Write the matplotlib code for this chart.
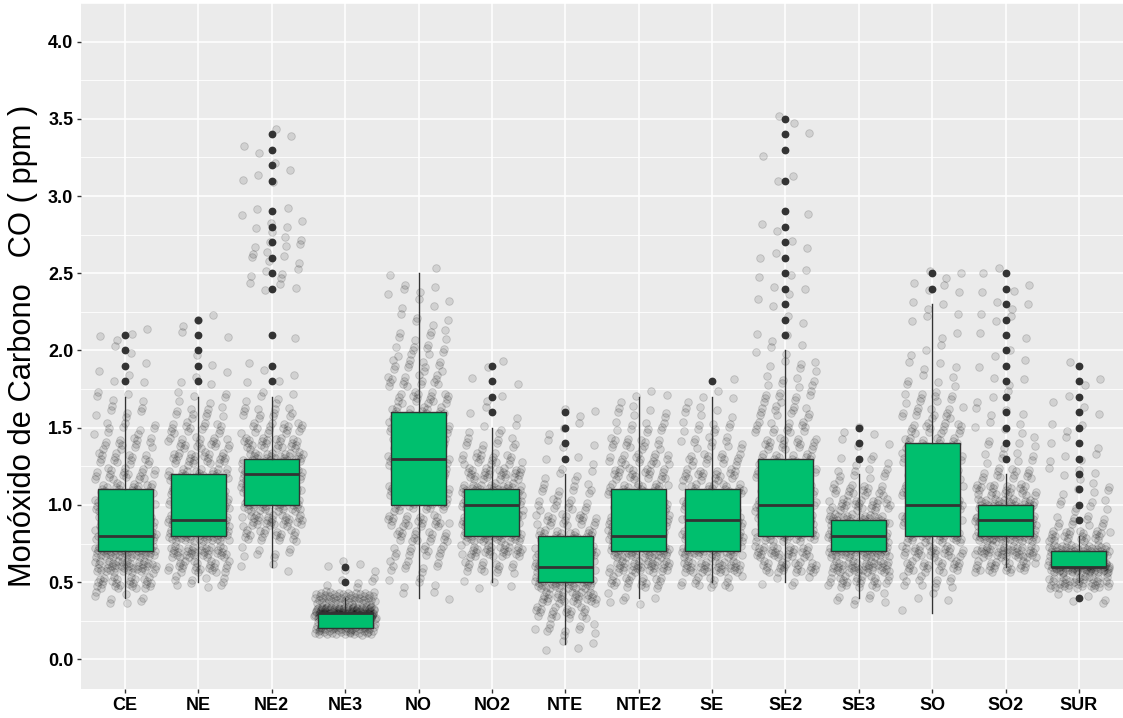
import matplotlib
matplotlib.use("Agg")
import matplotlib.pyplot as plt
import numpy as np

# ---------------- data ----------------
categories = ["CE", "NE", "NE2", "NE3", "NO", "NO2", "NTE", "NTE2",
              "SE", "SE2", "SE3", "SO", "SO2", "SUR"]

q1      = [0.7, 0.8, 1.0, 0.2, 1.0, 0.8, 0.5, 0.7, 0.7, 0.8, 0.7, 0.8, 0.8, 0.6]
median  = [0.8, 0.9, 1.2, 0.3, 1.3, 1.0, 0.6, 0.8, 0.9, 1.0, 0.8, 1.0, 0.9, 0.6]
q3      = [1.1, 1.2, 1.3, 0.3, 1.6, 1.1, 0.8, 1.1, 1.1, 1.3, 0.9, 1.4, 1.0, 0.7]
whis_lo = [0.4, 0.5, 0.6, 0.2, 0.4, 0.5, 0.1, 0.4, 0.5, 0.5, 0.4, 0.3, 0.6, 0.5]
whis_hi = [1.7, 1.7, 1.7, 0.4, 2.5, 1.5, 1.2, 1.7, 1.7, 2.0, 1.2, 2.3, 1.2, 0.8]

outliers_CE   = [1.8, 1.9, 2.0, 2.1]
outliers_NE   = [1.8, 1.9, 2.0, 2.1, 2.2]
outliers_NE2  = [1.8, 1.9, 2.1, 2.4, 2.5, 2.6, 2.7, 2.8, 2.9, 3.1, 3.2, 3.3, 3.4]
outliers_NE3  = [0.5, 0.6]
outliers_NO   = []
outliers_NO2  = [1.6, 1.7, 1.8, 1.9]
outliers_NTE  = [1.3, 1.4, 1.5, 1.6]
outliers_NTE2 = []
outliers_SE   = [1.8]
outliers_SE2  = [2.1, 2.2, 2.3, 2.4, 2.5, 2.6, 2.7, 2.8, 2.9, 3.1, 3.3, 3.4, 3.5]
outliers_SE3  = [1.3, 1.4, 1.5]
outliers_SO   = [2.4, 2.5]
outliers_SO2  = [1.3, 1.4, 1.5, 1.6, 1.7, 1.8, 1.9, 2.0, 2.1, 2.2, 2.3, 2.4, 2.5]
outliers_SUR  = [0.4, 0.9, 1.0, 1.1, 1.2, 1.3, 1.4, 1.5, 1.6, 1.7, 1.8, 1.9]

# jittered observations: lowest level (ppm) and counts per 0.1 ppm step
start_CE   = 0.4
counts_CE  = [8, 28, 42, 48, 42, 30, 26, 24, 20, 16, 14, 10, 7, 5, 3, 2, 2, 4]
start_NE   = 0.5
counts_NE  = [10, 25, 35, 45, 40, 35, 30, 28, 25, 20, 15, 10, 6, 3, 2, 1, 2, 3]
start_NE2  = 0.6
counts_NE2 = [3, 8, 20, 30, 35, 40, 45, 35, 25, 18, 12, 6, 3, 2, 0, 1, 0, 0,
              4, 5, 6, 6, 5, 3, 0, 3, 2, 2, 2]
start_NE3  = 0.2
counts_NE3 = [60, 120, 50, 6, 5]
start_NO   = 0.4
counts_NO  = [3, 5, 10, 14, 18, 22, 25, 25, 25, 25, 25, 22, 20, 18, 15, 12,
              10, 7, 5, 4, 5, 2]
start_NO2  = 0.5
counts_NO2 = [4, 15, 30, 40, 45, 45, 38, 28, 18, 10, 5, 3, 2, 2, 2]
start_NTE  = 0.1
counts_NTE = [4, 10, 20, 30, 40, 40, 35, 28, 20, 14, 10, 6, 3, 3, 3, 3]
start_NTE2 = 0.4
counts_NTE2 = [6, 20, 35, 40, 38, 32, 28, 25, 22, 18, 15, 10, 7, 4]
start_SE   = 0.5
counts_SE  = [15, 35, 40, 38, 35, 30, 25, 20, 16, 12, 9, 6, 4, 1]
start_SE2  = 0.5
counts_SE2 = [5, 25, 30, 32, 30, 28, 25, 22, 20, 18, 15, 12, 10, 8, 6, 4,
              3, 2, 2, 3, 3, 2, 2, 2, 1, 0, 2, 0, 1, 1, 2]
start_SE3  = 0.4
counts_SE3 = [8, 25, 40, 48, 50, 40, 28, 18, 10, 5, 3, 3]
start_SO   = 0.3
counts_SO  = [1, 3, 12, 22, 28, 30, 28, 26, 24, 22, 20, 18, 16, 13, 10, 6,
              4, 3, 2, 3, 3, 4, 3]
start_SO2  = 0.6
counts_SO2 = [25, 40, 50, 50, 40, 25, 15, 8, 6, 5, 4, 3, 3, 2, 2, 2, 3, 3, 3, 2]
start_SUR  = 0.4
counts_SUR = [5, 40, 80, 50, 25, 12, 8, 6, 5, 4, 3, 3, 2, 2, 2, 1]

y_label = "Monóxido de Carbono   CO ( ppm )"
y_ticks = [0.0, 0.5, 1.0, 1.5, 2.0, 2.5, 3.0, 3.5, 4.0]

outliers = [outliers_CE, outliers_NE, outliers_NE2, outliers_NE3, outliers_NO,
            outliers_NO2, outliers_NTE, outliers_NTE2, outliers_SE, outliers_SE2,
            outliers_SE3, outliers_SO, outliers_SO2, outliers_SUR]
starts = [start_CE, start_NE, start_NE2, start_NE3, start_NO, start_NO2, start_NTE,
          start_NTE2, start_SE, start_SE2, start_SE3, start_SO, start_SO2, start_SUR]
counts = [counts_CE, counts_NE, counts_NE2, counts_NE3, counts_NO, counts_NO2,
          counts_NTE, counts_NTE2, counts_SE, counts_SE2, counts_SE3, counts_SO,
          counts_SO2, counts_SUR]

# ---------------- style ----------------
BG = "#EBEBEB"
GREEN = "#00BF6E"
DARK = "#333333"
plt.rcParams["font.family"] = ["Liberation Sans", "DejaVu Sans"]

fig = plt.figure(figsize=(11.23, 7.18), dpi=100)
ax = fig.add_axes([81 / 1123, (718 - 689) / 718, (1123 - 81) / 1123, (689 - 3) / 718])
ax.set_facecolor(BG)
for s in ax.spines.values():
    s.set_visible(False)

positions = np.arange(1, len(categories) + 1)

# jitter layer (deterministic low-discrepancy placement inside ggplot's jitter box)
g1, g2 = 0.7548776662466927, 0.5698402909980532
k = 0
for pos, st, cnts in zip(positions, starts, counts):
    xs, ys = [], []
    for j, c in enumerate(cnts):
        level = st + 0.1 * j
        for _ in range(c):
            k += 1
            u = (0.5 + g1 * k) % 1.0
            v = (0.5 + g2 * k) % 1.0
            xs.append(pos + (u - 0.5) * 0.84)
            ys.append(level + (v - 0.5) * 0.08)
    ax.scatter(xs, ys, s=30, facecolors=(0, 0, 0, 0.11), edgecolors=(0, 0, 0, 0.16),
               linewidths=0.6, zorder=2)

# boxplots from statistics
stats = []
for i in range(len(categories)):
    stats.append(dict(med=median[i], q1=q1[i], q3=q3[i], whislo=whis_lo[i],
                      whishi=whis_hi[i], fliers=outliers[i]))
ax.bxp(stats, positions=positions, widths=0.75, patch_artist=True,
       showcaps=False, zorder=3,
       boxprops=dict(facecolor=GREEN, edgecolor=DARK, linewidth=1.0),
       medianprops=dict(color=DARK, linewidth=2.0, solid_capstyle="butt"),
       whiskerprops=dict(color=DARK, linewidth=1.0),
       flierprops=dict(marker="o", markerfacecolor=DARK, markeredgecolor=DARK,
                       markersize=4.6, linestyle="none"))

# axes
ax.set_xlim(0.4, len(categories) + 0.6)
ax.set_ylim(-0.192, 4.205)
ax.set_xticks(positions)
ax.set_xticklabels(categories, fontsize=13, fontweight="bold", color="black")
ax.set_yticks(y_ticks)
ax.set_yticklabels([f"{t:.1f}" for t in y_ticks], fontsize=13, fontweight="bold",
                   color="black")
ax.set_yticks([-0.25 + 0.5 * i for i in range(1, 10)], minor=True)
ax.tick_params(axis="both", which="major", length=3, width=1.0, color=DARK, pad=2.5)
ax.tick_params(axis="y", which="minor", length=0)
ax.grid(True, which="major", color="white", linewidth=1.1)
ax.grid(True, which="minor", axis="y", color="white", linewidth=0.6)
ax.set_axisbelow(True)
ax.set_ylabel(y_label, fontsize=22.2, color="black", labelpad=7)

fig.savefig("out.png", dpi=100, facecolor="white")
